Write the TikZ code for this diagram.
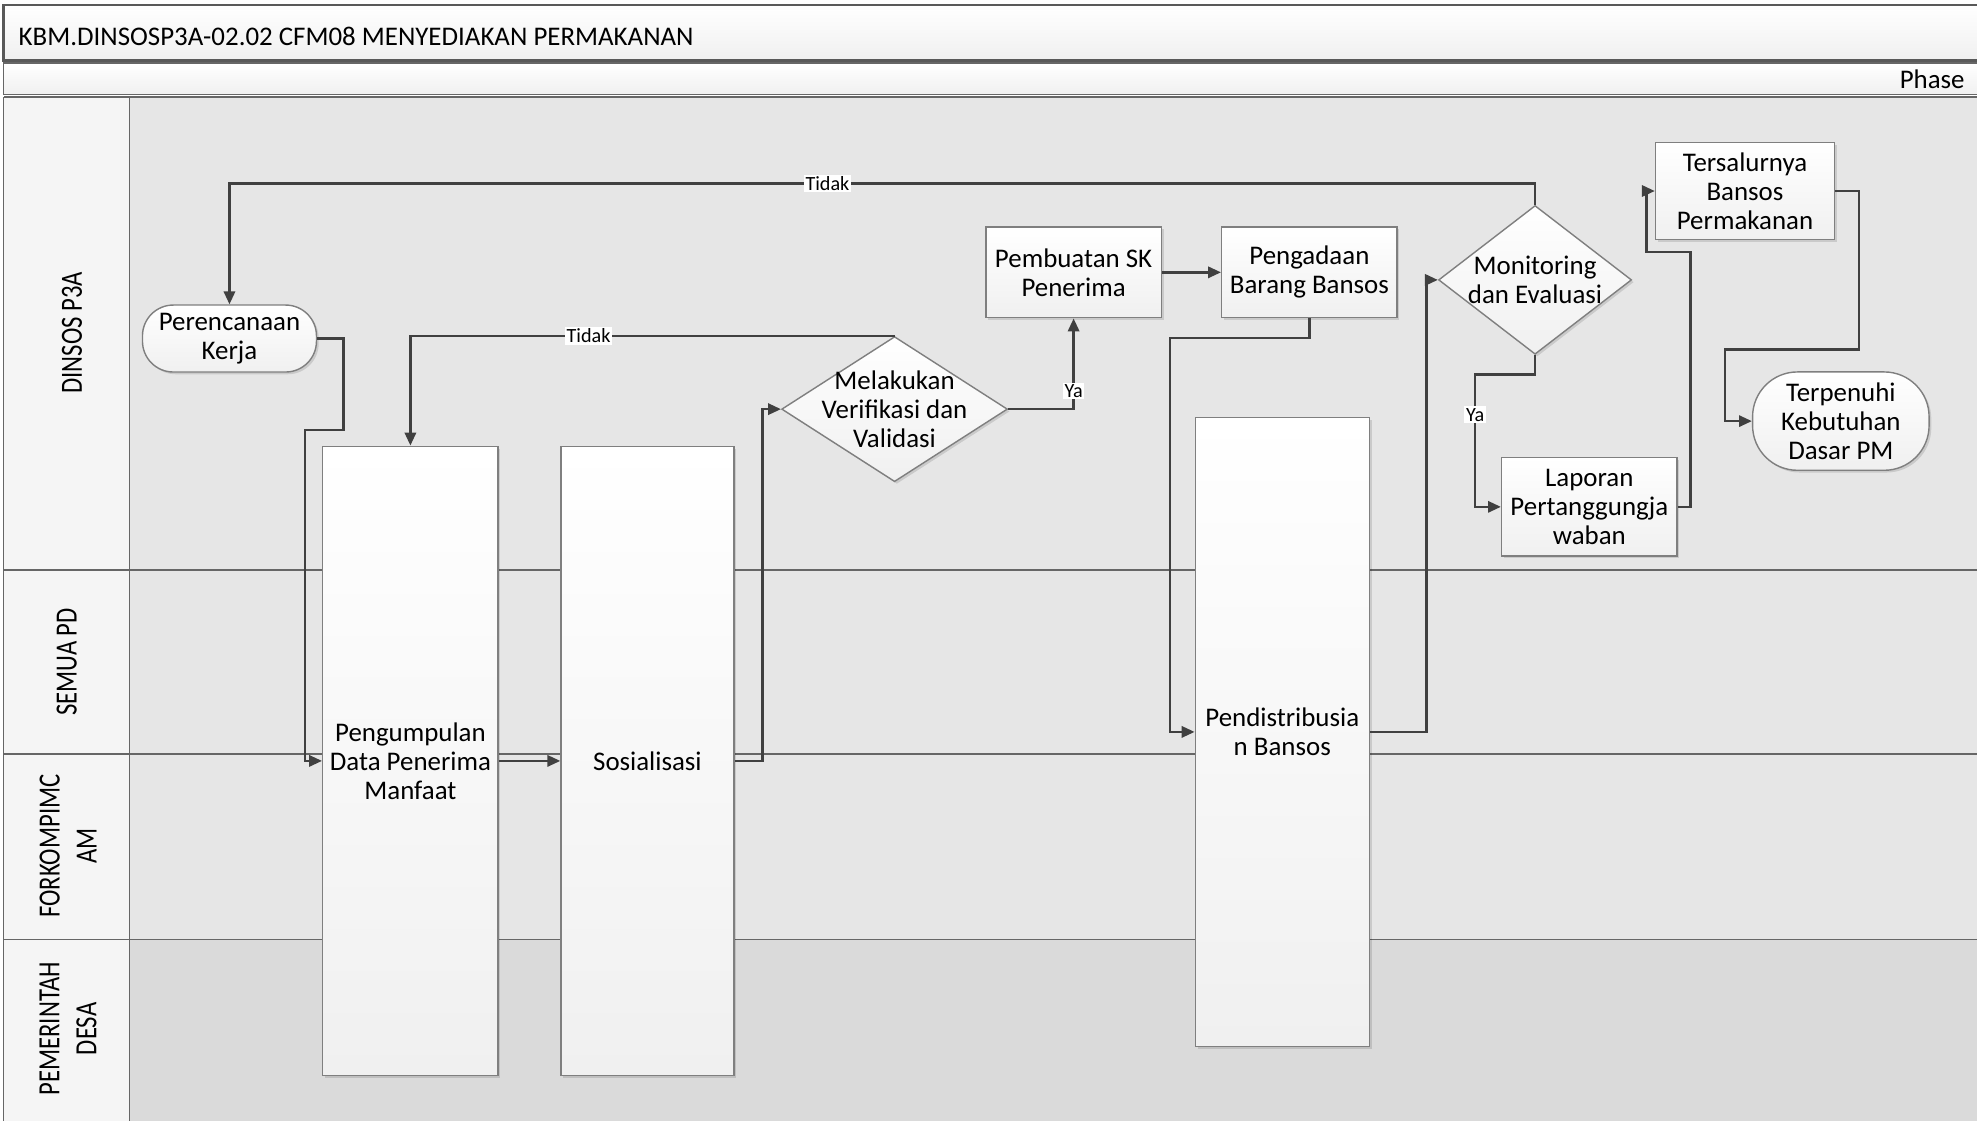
\documentclass[tikz,border=0pt]{standalone}
\usepackage{fontspec}
\setmainfont{Carlito}
\newfontfamily\lanefont[FakeStretch=0.8]{Carlito}
\usetikzlibrary{arrows.meta,shapes.geometric,shadows}
\definecolor{lanegray}{HTML}{E6E6E6}
\definecolor{lanedark}{HTML}{DADADA}
\definecolor{headfill}{HTML}{F5F5F5}
\definecolor{linegray}{HTML}{404040}
\definecolor{edgegray}{HTML}{7F7F7F}
\definecolor{boxlow}{HTML}{F0F0F0}

\begin{document}
\begin{tikzpicture}[x=0.45pt, y=-0.45pt,
    txt/.style={font=\fontsize{9.6}{10.4}\selectfont, align=center, text=black},
    shade box/.style={top color=white, bottom color=boxlow, draw=edgegray, line width=0.5pt,
      drop shadow={shadow xshift=0.8pt, shadow yshift=-0.8pt, fill=black, opacity=0.12}},
    procbox/.style={txt, shade box, rectangle, inner sep=0pt},
    termbox/.style={txt, shade box, rectangle, rounded corners=11pt, inner sep=0pt},
    decbox/.style={shade box, diamond, inner sep=0pt},
    flow/.style={draw=linegray, line width=0.9pt, -{Triangle[length=4.6pt, width=4pt]}},
    lbl/.style={fill=white, text=black, font=\fontsize{7.2}{8}\selectfont, inner sep=0.6pt},
    lanelbl/.style={rotate=90, align=center, font=\lanefont\fontsize{11}{13.2}\selectfont},
    laneline/.style={draw=black!60, line width=0.45pt}]
  \useasboundingbox (0,0) rectangle (1568,889);
  \clip (0,0) rectangle (1568,889);

  % pool and lanes
  \fill[lanegray] (103,77) rectangle (1580,745);
  \fill[lanedark] (103,745) rectangle (1580,895);
  \fill[headfill] (3,77) rectangle (103,895);
  \draw[draw=black!65, line width=1pt, top color=white, bottom color=boxlow] (3,4) rectangle (1580,48);
  \draw[laneline, top color=white, bottom color=boxlow] (3,50) rectangle (1580,75);
  \draw[laneline] (3,77) -- (1580,77);
  \draw[laneline] (3,452) -- (1580,452);
  \draw[laneline] (3,598) -- (1580,598);
  \draw[laneline] (3,745) -- (1580,745);
  \draw[laneline] (3,77) -- (3,895);
  \draw[laneline] (103,77) -- (103,895);

  \node[txt, anchor=west] (title) at (7,29) {KBM.DINSOSP3A-02.02 CFM08 MENYEDIAKAN PERMAKANAN};
  \node[txt, anchor=east] (phase) at (1566,63) {Phase};

  \node[lanelbl] (dinsos) at (57,264) {DINSOS P3A};
  \node[lanelbl] (semua) at (53,525) {SEMUA PD};
  \node[lanelbl] (forko) at (54,671) {FORKOMPIMC\\AM};
  \node[lanelbl] (desa) at (54,816) {PEMERINTAH\\DESA};

  % steps
  \node[termbox, minimum width=62.1pt, minimum height=23.9pt] (plan) at (182,268.5) {Perencanaan\\Kerja};
  \node[procbox, minimum width=62.6pt, minimum height=224.6pt] (pdm) at (325.5,603.5) {Pengumpulan\\Data Penerima\\Manfaat};
  \node[procbox, minimum width=61.7pt, minimum height=224.6pt] (sos) at (513.5,603.5) {Sosialisasi};
  \node[decbox, minimum width=80.6pt, minimum height=51.8pt,
    label={[txt]center:{Melakukan\\Verifikasi dan\\Validasi}}] (ver) at (709.5,324.5) {};
  \node[procbox, minimum width=62.6pt, minimum height=32.4pt] (sk) at (851.5,216) {Pembuatan SK\\Penerima};
  \node[procbox, minimum width=62.6pt, minimum height=32.4pt] (brg) at (1038.5,216) {Pengadaan\\Barang Bansos};
  \node[procbox, minimum width=62.1pt, minimum height=224.6pt] (dist) at (1017,580.5) {Pendistribusia\\n Bansos};
  \node[decbox, minimum width=68.9pt, minimum height=53.1pt,
    label={[txt]center:{Monitoring\\dan Evaluasi}}] (mon) at (1217.5,222) {};
  \node[procbox, minimum width=62.6pt, minimum height=35.1pt] (lap) at (1260.5,402) {Laporan\\Pertanggungja\\waban};
  \node[procbox, minimum width=63.9pt, minimum height=34.7pt] (tsb) at (1384,151.5) {Tersalurnya\\Bansos\\Permakanan};
  \node[termbox, rounded corners=16pt, minimum width=63pt, minimum height=35.1pt] (pm) at (1460,334) {Terpenuhi\\Kebutuhan\\Dasar PM};

  % connectors
  \draw[flow] (plan.east) -- ++(21,0) |- (242,341) |- (pdm.west);
  \draw[flow] (pdm) -- (sos);
  \draw[flow] (sos.east) -- ++(22,0) |- (ver.west);
  \draw[flow] (ver.east) -| node[lbl, pos=0.6] {Ya} (sk.south);
  \draw[flow] (ver.north) -| node[lbl, pos=0.316] {Tidak} (pdm.north);
  \draw[flow] (sk) -- (brg);
  \draw[flow] (brg.south) |- (928,268) |- (dist.west);
  \draw[flow] (dist.east) -- ++(45,0) |- (mon.west);
  \draw[flow] (mon.north) -- ++(0,-17) -| node[lbl, pos=0.271] {Tidak} (plan.north);
  \draw[flow] (mon.south) |- (1170,297) |- node[lbl, pos=0.152] {Ya} (lap.west);
  \draw[flow] (lap.east) -- ++(10,0) |- (1306,200) |- (tsb.west);
  \draw[flow] (tsb.east) -- ++(19,0) |- (1368,277) |- (pm.west);
\end{tikzpicture}
\end{document}
